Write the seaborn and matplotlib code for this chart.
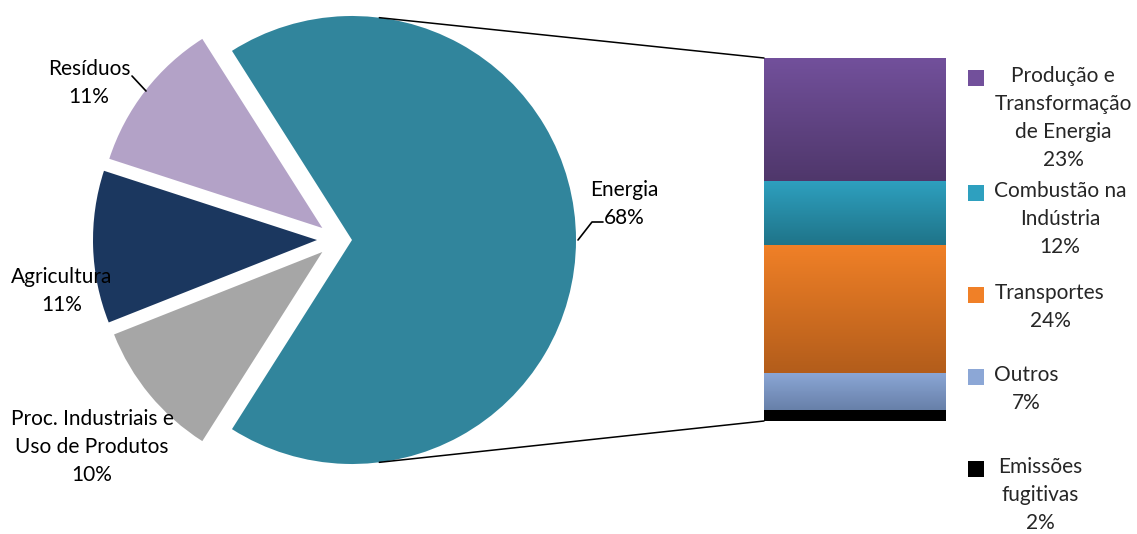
import numpy as np
import pandas as pd
import matplotlib
matplotlib.use("Agg")
import matplotlib.pyplot as plt
import seaborn as sns
from matplotlib.patches import ConnectionPatch

# pie data (share of total emissions, %)
pie_labels = ["Energia", "Resíduos", "Agricultura", "Proc. Industriais e\nUso de Produtos"]
pie_values = [68, 11, 11, 10]
pie_colors = ["#31859C", "#B3A2C7", "#1B375F", "#A6A6A6"]

# breakdown of the Energia slice (bar, from top to bottom)
bar_labels = ["Produção e\nTransformação\nde Energia", "Combustão na\nIndústria", "Transportes",
              "Outros", "Emissões\nfugitivas"]
bar_values = [23, 12, 24, 7, 2]
bar_top = ["#72509B", "#2EA0BF", "#F08027", "#8CA7D6", "#000000"]
bar_bottom = ["#4F376B", "#1F7489", "#B35D1B", "#6780A9", "#000000"]

sns.set_theme(style="white")
plt.rcParams["font.family"] = ["Lato", "DejaVu Sans"]
FS = 15
LS = 1.5

W, H = 1137, 534
fig = plt.figure(figsize=(W / 100, H / 100), dpi=100)
ax = fig.add_axes([0, 0, 1, 1])

cx, cy, R = 352, H - 240, 224
start = -pie_values[0] / 100 * 360 / 2
wedges, _ = ax.pie(pie_values, colors=pie_colors, startangle=start, counterclock=True,
                   center=(cx, cy), radius=R, wedgeprops=dict(linewidth=0), frame=True)
# pull the small slices out to the left (more horizontally than the mid-angle)
for w, ang, d in zip(wedges[1:], [158, 180, 202], [32, 35, 32]):
    a = np.deg2rad(ang)
    w.set_center((cx + d * np.cos(a), cy + d * np.sin(a)))
ax.set_xlim(0, W)
ax.set_ylim(0, H)
ax.set_aspect("equal")
ax.axis("off")

# pie labels
txt = dict(fontsize=FS, ha="center", va="center", color="black", linespacing=LS)
ax.text(624, H - 204, "Energia\n68%", **txt)
ax.plot([578, 592, 603], [H - 240, H - 222, H - 222], color="black", lw=1.2)
ax.text(89, H - 83, "Resíduos\n11%", **txt)
ax.plot([132, 146], [H - 76, H - 91], color="black", lw=1.2)
ax.text(62, H - 291, "Agricultura\n11%", **txt)
ax.text(92, H - 447, "Proc. Industriais e\nUso de Produtos\n10%", **txt)

# stacked bar, drawn as overlapping cumulative bars
bax = fig.add_axes([764 / W, (H - 421) / H, 182 / W, 363 / H])
cum = np.cumsum(bar_values[::-1])[::-1]  # tops of each segment
bottoms = list(cum[1:]) + [0]
for i, (c, col) in enumerate(zip(cum, bar_top)):
    sns.barplot(x=[""], y=[c], color=col, width=1, saturation=1, ax=bax,
                linewidth=0, zorder=2 + i)
    grad = np.linspace(0, 1, 64)[:, None]
    cmap = matplotlib.colors.LinearSegmentedColormap.from_list("g", [bar_bottom[i], bar_top[i]])
    im = bax.imshow(grad, cmap=cmap, extent=(-0.5, 0.5, bottoms[i], c), origin="lower",
                    aspect="auto", zorder=2.5 + i)
    im.set_clip_path(bax.patches[-1])
bax.set_xlim(-0.5, 0.5)
bax.set_ylim(0, sum(bar_values))
bax.axis("off")

# connector lines from pie to bar
for ang, yb in [(83, sum(bar_values)), (-83, 0)]:
    a = np.deg2rad(ang)
    con = ConnectionPatch(xyA=(cx + R * np.cos(a), cy + R * np.sin(a)), coordsA=ax.transData,
                          xyB=(-0.5, yb), coordsB=bax.transData, color="black", lw=1.1)
    fig.add_artist(con)

# legend
leg_sq_y = [78, 193, 295, 377, 469]
leg_txt_x = [1063, 1060, 1050, 1026, 1040]
for lab, v, col, sy, tx in zip(bar_labels, bar_values, bar_top, leg_sq_y, leg_txt_x):
    ax.scatter([976], [H - sy], marker="s", s=130, color=col, edgecolor="none")
    ax.text(tx, H - sy + 12, f"{lab}\n{v}%", fontsize=FS, ha="center", va="top",
            linespacing=LS)

fig.savefig("out.png", dpi=100)
